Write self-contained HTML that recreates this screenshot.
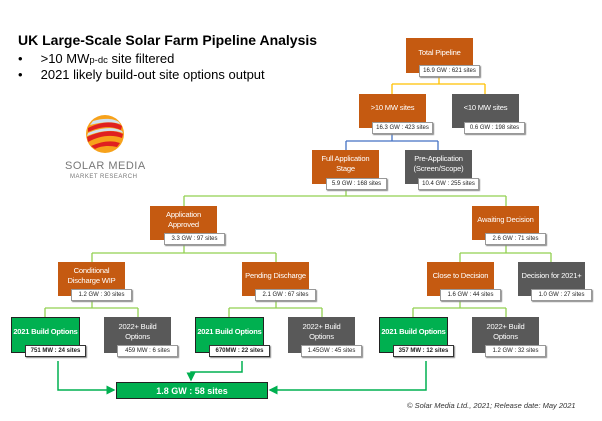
<!DOCTYPE html>
<html><head><meta charset="utf-8"><style>
body{margin:0;width:602px;height:421px;background:#fff;position:relative;overflow:hidden;font-family:"Liberation Sans",sans-serif}
.b{position:absolute;height:34px;color:#fff;font-size:7.6px;letter-spacing:-0.2px;display:flex;align-items:center;justify-content:center;text-align:center;line-height:10px;box-sizing:border-box;padding-bottom:6px;white-space:nowrap}
.o{background:#c55a11;width:67px}
.g{background:#595959;width:67px}
.gr{background:#00b050;width:69px;height:36px;border:1px solid #222;font-weight:bold;font-size:7.5px;letter-spacing:-0.2px}
.l{position:absolute;width:61px;height:12px;background:#fff;border:1px solid #999;box-sizing:border-box;font-size:6px;color:#222;text-align:center;line-height:10px;box-shadow:1px 1px 1px #888}
.lg{border:1.5px solid #333;font-weight:bold}
.t{position:absolute;white-space:nowrap}
svg{position:absolute;left:0;top:0}
</style></head><body>
<svg width="602" height="421">
<defs><marker id="a" markerWidth="6" markerHeight="6" refX="5" refY="3" orient="auto"><path d="M0,0L6,3L0,6z" fill="#00b050"/></marker></defs>
<g fill="none" stroke-width="1.3">
<path d="M439,76V84M392,84H485M392,84V94M485,84V94" stroke="#ffc000"/>
<path d="M392,133V141M346,141H438M346,141V150M438,141V150" stroke="#4472c4"/>
<g stroke="#92d050">
<path d="M346,189V196M184,196H506M184,196V206M506,196V206"/>
<path d="M184,245V253M92,253H276M92,253V262M276,253V262"/>
<path d="M506,245V253M460,253H551M460,253V262M551,253V262"/>
<path d="M92,301V308M45,308H138M45,308V317M138,308V317"/>
<path d="M276,301V308M229,308H322M229,308V317M322,308V317"/>
<path d="M460,301V308M413,308H506M413,308V317M506,308V317"/>
</g>
<g stroke="#00b050" stroke-width="1.5">
<path d="M58,361V390H114" marker-end="url(#a)"/>
<path d="M242,361V372H191V380" marker-end="url(#a)"/>
<path d="M426,361V390H270" marker-end="url(#a)"/>
</g></g>
<g transform="translate(105,134)">
<circle r="19" fill="#f7a21b"/>
<path d="M-17,-6C-5,-12 8,-14 17,-8L16,-4C5,-9 -6,-7 -17,-2z" fill="#e02020"/>
<path d="M-18,3C-5,-3 8,-5 18,0L17,4C6,0 -6,2 -17,8z" fill="#e02020"/>
<path d="M-14,12C-3,7 7,6 15,9L12,13C4,11 -5,12 -10,15z" fill="#e02020"/>
<path d="M-12,-13C-2,-16 8,-16 14,-12L15,-10C6,-13 -4,-12 -15,-9z" fill="#cfe0f0"/>
<path d="M-17,-1C-6,-6 8,-8 17,-3L18,-1C7,-5 -6,-3 -18,2z" fill="#cfe0f0"/>
</g>
</svg>
<div class="t" style="left:18px;top:32px;font-size:14px;font-weight:bold;color:#000">UK Large-Scale Solar Farm Pipeline Analysis</div>
<div class="t" style="left:18px;top:51px;font-size:13px;color:#000">•&nbsp;&nbsp;&nbsp;&nbsp;&nbsp;&gt;10 MW<span style="font-size:9.5px">p-dc</span> site filtered</div>
<div class="t" style="left:18px;top:67px;font-size:13px;color:#000">•&nbsp;&nbsp;&nbsp;&nbsp;&nbsp;2021 likely build-out site options output</div>
<div class="t" style="left:65px;top:160px;font-size:11px;color:#777;letter-spacing:0.5px">SOLAR MEDIA</div>
<div class="t" style="left:70px;top:174px;font-size:6px;color:#777;letter-spacing:0.5px">MARKET RESEARCH</div>

<div class="b o" style="left:406px;top:38px;height:35px">Total Pipeline</div><div class="l" style="left:419px;top:65px">16.9 GW : 621 sites</div>
<div class="b o" style="left:359px;top:94px">&gt;10 MW sites</div><div class="l" style="left:372px;top:122px">16.3 GW : 423 sites</div>
<div class="b g" style="left:452px;top:94px">&lt;10 MW sites</div><div class="l" style="left:464px;top:122px">0.6 GW : 198 sites</div>
<div class="b o" style="left:312px;top:150px">Full Application<br>Stage</div><div class="l" style="left:326px;top:178px">5.9 GW : 168 sites</div>
<div class="b g" style="left:405px;top:150px">Pre-Application<br>(Screen/Scope)</div><div class="l" style="left:418px;top:178px">10.4 GW : 255 sites</div>

<div class="b o" style="left:150px;top:206px">Application<br>Approved</div><div class="l" style="left:164px;top:233px">3.3 GW : 97 sites</div>
<div class="b o" style="left:472px;top:206px">Awaiting Decision</div><div class="l" style="left:485px;top:233px">2.6 GW : 71 sites</div>
<div class="b o" style="left:58px;top:262px">Conditional<br>Discharge WIP</div><div class="l" style="left:71px;top:289px">1.2 GW : 30 sites</div>
<div class="b o" style="left:242px;top:262px">Pending Discharge</div><div class="l" style="left:255px;top:289px">2.1 GW : 67 sites</div>
<div class="b o" style="left:427px;top:262px">Close to Decision</div><div class="l" style="left:440px;top:289px">1.6 GW : 44 sites</div>
<div class="b g" style="left:518px;top:262px">Decision for 2021+</div><div class="l" style="left:531px;top:289px">1.0 GW : 27 sites</div>

<div class="b gr" style="left:11px;top:317px">2021 Build Options</div><div class="l lg" style="left:25px;top:345px">751 MW : 24 sites</div>
<div class="b g" style="left:104px;top:317px;height:36px">2022+ Build<br>Options</div><div class="l" style="left:117px;top:345px">459 MW : 6 sites</div>
<div class="b gr" style="left:195px;top:317px">2021 Build Options</div><div class="l lg" style="left:209px;top:345px">670MW : 22 sites</div>
<div class="b g" style="left:288px;top:317px;height:36px">2022+ Build<br>Options</div><div class="l" style="left:301px;top:345px">1.45GW : 45 sites</div>
<div class="b gr" style="left:379px;top:317px">2021 Build Options</div><div class="l lg" style="left:393px;top:345px">357 MW : 12 sites</div>
<div class="b g" style="left:472px;top:317px;height:36px">2022+ Build<br>Options</div><div class="l" style="left:485px;top:345px">1.2 GW : 32 sites</div>

<div class="b" style="left:116px;top:382px;width:152px;height:17px;background:#00b050;border:1px solid #222;padding:0;font-size:9px;font-weight:bold;letter-spacing:0">1.8 GW : 58 sites</div>
<div class="t" style="left:407px;top:401px;font-size:7.5px;font-style:italic;color:#333">© Solar Media Ltd., 2021; Release date: May 2021</div>
</body></html>
